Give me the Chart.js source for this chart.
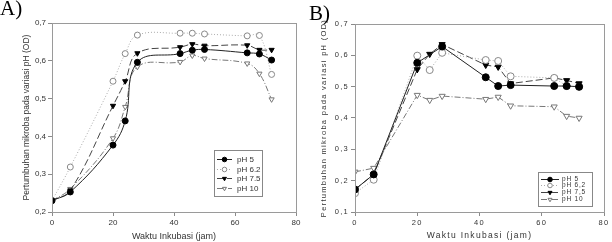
<!DOCTYPE html>
<html>
<head>
<meta charset="utf-8">
<script src="https://cdn.jsdelivr.net/npm/chart.js@4.4.6/dist/chart.umd.min.js"></script>
<style>
  html, body { margin: 0; padding: 0; background: #fff; }
  #wrap { position: relative; width: 612px; height: 242px; overflow: hidden; }
  canvas { position: absolute; top: 0; }
  #cA { left: 0; }
  #cB { left: 306px; }
  .lbl { position: absolute; font-family: "Liberation Serif", "DejaVu Serif", serif; font-size: 21px; line-height: 1; color: #000; }
</style>
</head>
<body>
<div id="wrap">
  <canvas id="cA" width="306" height="242"></canvas>
  <canvas id="cB" width="306" height="242"></canvas>
  <div class="lbl" style="left:0;top:-2px">A)</div>
  <div class="lbl" style="left:309px;top:3px">B)</div>
</div>
<script>
// waktu inkubasi (jam)
const jam = [0, 6, 20, 24, 28, 42, 46, 50, 64, 68, 72];

// panel A
const labelA = ['pH 5', 'pH 6.2', 'pH 7.5', 'pH 10'];
const ph5A  = [0.230, 0.253, 0.377, 0.441, 0.596, 0.619, 0.628, 0.630, 0.621, 0.618, 0.602];
const ph62A = [0.230, 0.319, 0.546, 0.619, 0.668, 0.673, 0.673, 0.671, 0.666, 0.667, 0.564];
const ph75A = [0.230, 0.257, 0.481, 0.546, 0.620, 0.636, 0.644, 0.640, 0.641, 0.629, 0.629];
const ph10A = [0.230, 0.261, 0.395, 0.478, 0.584, 0.597, 0.614, 0.606, 0.593, 0.566, 0.498];

// panel B (null = tidak ada titik)
const labelB = ['pH 5', 'pH 6,2', 'pH 7,5', 'pH 10'];
const ph5B  = [0.172, 0.220, 0.576, null,  0.628, 0.530, 0.502, 0.505, 0.502, 0.502, 0.500];
const ph62B = [0.160, 0.203, 0.599, 0.553, 0.608, 0.585, 0.582, 0.533, 0.528, 0.502, 0.499];
const ph75B = [0.172, 0.220, 0.555, 0.604, 0.635, 0.569, 0.563, 0.510, 0.528, 0.520, 0.510];
const ph10B = [0.228, 0.240, 0.473, 0.457, 0.470, 0.460, 0.467, 0.439, 0.436, 0.406, 0.400];

const ticksX = [0, 20, 40, 60, 80];

// gaya tiap seri
const gaya = [
  { garis: '#222', dash: [],           titik: 'circle',   isi: '#000', tepi: '#000', rot: 0 },
  { garis: '#aaa', dash: [1, 2],       titik: 'circle',   isi: '#fff', tepi: '#888', rot: 0 },
  { garis: '#444', dash: [7, 3],       titik: 'triangle', isi: '#000', tepi: '#000', rot: 180 },
  { garis: '#777', dash: [6, 2, 1, 2], titik: 'triangle', isi: '#fff', tepi: '#777', rot: 180 },
];

const FONT = '"Liberation Sans", Arial, sans-serif';

const keTitik = ys => jam.map((x, i) => ({ x, y: ys[i] })).filter(p => p.y !== null);

const bingkai = {
  id: 'bingkai',
  afterDatasetsDraw(chart) {
    const { ctx, chartArea: a } = chart;
    ctx.save();
    ctx.strokeStyle = '#9a9a9a';
    ctx.lineWidth = 1;
    ctx.strokeRect(Math.round(a.left) + 0.5, Math.round(a.top) + 0.5,
      Math.round(a.right - a.left), Math.round(a.bottom - a.top));
    ctx.restore();
  },
};

// kotak legenda: garis contoh + penanda + teks
const legendaKotak = {
  id: 'legendaKotak',
  afterDraw(chart, args, o) {
    const { ctx } = chart;
    ctx.save();
    ctx.letterSpacing = o.spasi || '0px';
    ctx.strokeStyle = '#888';
    ctx.lineWidth = 1;
    ctx.strokeRect(o.x + 0.5, o.y + 0.5, o.w, o.h);
    ctx.font = o.ukuran + 'px ' + FONT;
    ctx.textBaseline = 'middle';
    chart.data.datasets.forEach((ds, i) => {
      const y = Math.round(o.y + o.atas + i * o.baris) + 0.5;
      const cx = o.x + 3 + o.panjang / 2;
      ctx.strokeStyle = ds.borderColor;
      ctx.setLineDash(ds.borderDash);
      ctx.beginPath();
      ctx.moveTo(o.x + 3, y);
      ctx.lineTo(o.x + 3 + o.panjang, y);
      ctx.stroke();
      ctx.setLineDash([]);
      ctx.fillStyle = ds.pointBackgroundColor;
      ctx.strokeStyle = ds.pointBorderColor;
      Chart.helpers.drawPoint(ctx, {
        pointStyle: ds.pointStyle, rotation: ds.pointRotation,
        radius: o.r, borderWidth: 1,
      }, cx, y);
      ctx.fillStyle = '#333';
      ctx.fillText(ds.label, o.x + o.teks, y);
    });
    ctx.restore();
  },
};

const spasiHuruf = {
  id: 'spasiHuruf',
  beforeDraw(chart, args, o) { chart.ctx.letterSpacing = o.nilai || '0px'; },
  afterDraw(chart) { chart.ctx.letterSpacing = '0px'; },
};

function buatGrafik(id, p) {
  const datasets = p.seri.map((ys, i) => ({
    label: p.label[i],
    data: keTitik(ys),
    showLine: true,
    tension: p.tension,
    borderColor: gaya[i].garis,
    borderDash: gaya[i].dash,
    borderWidth: 1,
    pointStyle: gaya[i].titik,
    pointRotation: gaya[i].rot,
    pointRadius: p.r,
    pointBackgroundColor: gaya[i].isi,
    pointBorderColor: gaya[i].tepi,
    pointBorderWidth: 1,
  }));

  return new Chart(document.getElementById(id), {
    type: 'scatter',
    data: { datasets },
    options: {
      responsive: false,
      animation: false,
      layout: { padding: { top: p.top, right: p.right, left: 0, bottom: 0 } },
      plugins: {
        legend: { display: false },
        tooltip: { enabled: false },
        legendaKotak: p.legenda,
        spasiHuruf: { nilai: p.spasi },
      },
      scales: {
        x: {
          type: 'linear', min: 0, max: 80,
          afterBuildTicks: s => { s.ticks = ticksX.map(v => ({ value: v })); },
          afterFit: s => { s.height = 30; },
          border: { color: '#8a8a8a' },
          grid: { drawOnChartArea: false, drawTicks: true, tickLength: 4, color: '#8a8a8a' },
          ticks: { color: '#333', font: { family: FONT, size: p.fTick }, padding: 2, maxRotation: 0 },
          title: { display: true, text: 'Waktu Inkubasi (jam)', color: '#333',
                   font: { family: FONT, size: p.fJudul }, padding: { top: 0, bottom: p.padX } },
        },
        y: {
          min: p.yMin, max: 0.7,
          ticks: { stepSize: 0.1, color: '#333', font: { family: FONT, size: p.fTick }, padding: 2,
                   callback: v => v.toFixed(1).replace('.', ',') },
          afterFit: s => { s.width = p.left; },
          border: { color: '#8a8a8a' },
          grid: { drawOnChartArea: false, drawTicks: true, tickLength: 4, color: '#8a8a8a' },
          title: { display: true, text: 'Pertumbuhan mikroba pada variasi pH (OD)', color: '#333',
                   font: { family: FONT, size: p.fJudulY }, padding: { top: p.padY, bottom: 0 } },
        },
      },
    },
    plugins: [bingkai, legendaKotak, spasiHuruf],
  });
}

buatGrafik('cA', {
  seri: [ph5A, ph62A, ph75A, ph10A], label: labelA,
  tension: 0.4, r: 3, yMin: 0.2,
  top: 23, right: 10, left: 52,
  fTick: 8, fJudul: 9, fJudulY: 8.5, padX: 0, padY: 22, spasi: '0px',
  legenda: { x: 214, y: 150, w: 48, h: 46, atas: 9, baris: 9.5, panjang: 15, teks: 23, ukuran: 8, r: 2.3 },
});

buatGrafik('cB', {
  seri: [ph5B, ph62B, ph75B, ph10B], label: labelB,
  tension: 0, r: 3.5, yMin: 0.1,
  top: 24, right: 8, left: 49,
  fTick: 7.5, fJudul: 8.5, fJudulY: 7.5, padX: 1, padY: 13, spasi: '1.3px',
  legenda: { x: 232, y: 172, w: 54, h: 34, atas: 6.5, baris: 6.8, panjang: 18, teks: 24, ukuran: 6.5, r: 2.3, spasi: '0.8px' },
});
</script>
</body>
</html>
